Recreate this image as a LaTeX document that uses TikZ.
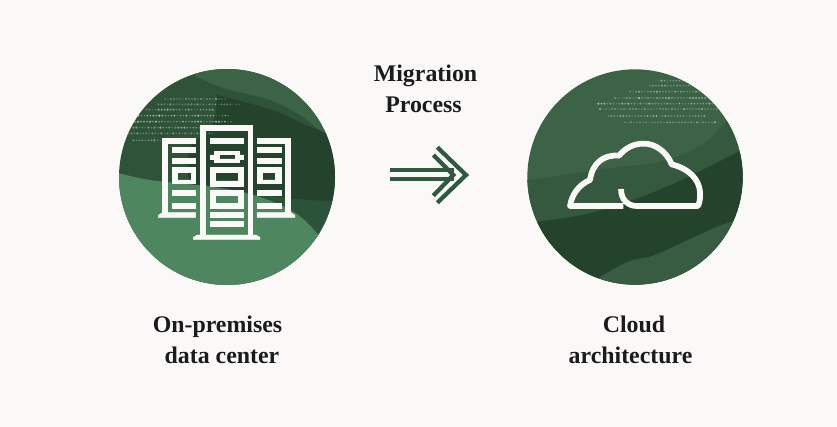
\documentclass[tikz,border=0pt]{standalone}
\usepackage{fontspec}
\setmainfont{Liberation Serif}
\definecolor{paper}{HTML}{FBF9F7}
\definecolor{inkc}{HTML}{1B1B1F}
\definecolor{bright}{HTML}{4E8660}
\definecolor{midl}{HTML}{2F5339}
\definecolor{midg}{HTML}{2C5339}
\definecolor{deep}{HTML}{24432C}
\definecolor{soft}{HTML}{3C6346}
\definecolor{softb}{HTML}{35593F}
\definecolor{arrowc}{HTML}{2F5A3F}
\tikzset{
  caption/.style={font=\bfseries\fontsize{17.9}{21}\selectfont,text=inkc,anchor=base,inner sep=0pt},
  zoomL/.style={shift={(110,65)},x=.25pt,y=-.25pt},
  zoomR/.style={shift={(515,65)},x=.25pt,y=-.25pt},
  zoomA/.style={shift={(360,50)},x=.25pt,y=-.25pt},
  icon/.style={fill=paper,draw=paper,line width=.35pt},
  cloudline/.style={draw=paper,line width=4.3pt,line cap=butt,line join=round},
  arrowline/.style={draw=arrowc,line width=3.2pt,line cap=butt,line join=miter},
}
\newcommand{\dotrow}[4]{% y, x start, x end, max opacity
  \pgfmathsetmacro{\xnext}{#2+9}
  \foreach \dx in {#2,\xnext,...,#3}{
    \pgfmathsetmacro{\op}{#4*(.25+.75*rnd)}
    \pgfmathsetmacro{\rr}{2+1.6*rnd}
    \fill[white,fill opacity=\op] (\dx,#1) circle[radius=\rr];
  }}
\begin{document}
\begin{tikzpicture}[x=.75pt,y=-.75pt]
\useasboundingbox (0,0) rectangle (837,427);
\fill[paper] (0,0) rectangle (837,427);
\pgfmathsetseed{4242}

% left disc
\begin{scope}[zoomL]
  \begin{scope}
    \clip (351,336) circle[radius=324];
    \fill[midl] (0,0) rectangle (700,680);
    \fill[deep] plot[smooth,tension=.6] coordinates {(320,90) (400,110) (500,140) (600,185) (700,220)} -- (700,420) -- plot[smooth,tension=.6] coordinates {(690,410) (600,405) (520,398) (430,385) (300,362) (240,350) (240,250) (300,190) (320,130)} -- cycle;
    \fill[soft] plot[smooth,tension=.6] coordinates {(225,10) (270,40) (350,72) (480,105) (570,150) (625,192) (690,225)} -- (700,0) -- (225,0) -- cycle;
    \fill[midg] plot[smooth,tension=.6] coordinates {(430,385) (520,398) (600,408) (700,405)} -- (700,560) -- (600,520) -- cycle;
    \fill[bright] plot[smooth,tension=.6] coordinates {(10,320) (120,345) (300,365) (430,390) (550,440) (625,510) (660,570)} -- (700,690) -- (0,690) -- cycle;
    \dotrow{102}{165}{350}{.6}
    \dotrow{118}{145}{395}{.5}
    \dotrow{134}{110}{310}{.6}
    \dotrow{152}{85}{360}{.75}
    \dotrow{170}{75}{370}{.7}
    \dotrow{188}{70}{310}{.55}
    \dotrow{205}{55}{310}{.55}
    \dotrow{226}{70}{170}{.55}
  \end{scope}
  % centre server
  \fill[icon] (272,180) rectangle (285,515);
  \fill[icon] (415,180) rectangle (428,515);
  \fill[icon] (272,180) rectangle (428,195);
  \fill[icon] (250,523) -- (250,517) -- (262,510) -- (438,510) -- (450,517) -- (450,523) -- cycle;
  \fill[icon] (300,220) rectangle (400,235);
  \fill[icon,even odd rule] (300,270) -- (313,270) -- (313,260) -- (387,260) -- (387,270) -- (400,270) -- (400,283) -- (387,283) -- (387,293) -- (313,293) -- (313,283) -- (300,283) -- cycle (328,269) rectangle (375,282);
  \fill[icon,even odd rule] (300,308) rectangle (400,363) (315,323) rectangle (385,348);
  \fill[icon,even odd rule] (300,377) rectangle (400,430) (315,391) rectangle (385,415);
  \fill[icon] (300,443) rectangle (400,458);
  \fill[icon] (300,470) rectangle (400,485);
  % left server
  \fill[icon] (157,220) rectangle (173,450);
  \fill[icon] (157,220) rectangle (257,235);
  \fill[icon] (145,457) -- (145,451) -- (157,443) -- (257,443) -- (257,457) -- cycle;
  \fill[icon] (187,248) rectangle (257,263);
  \fill[icon] (187,280) rectangle (257,295);
  \fill[icon,even odd rule] (187,308) rectangle (257,355) (203,323) rectangle (243,345);
  \fill[icon] (187,375) rectangle (257,392);
  \fill[icon] (187,415) rectangle (257,430);
  % right server
  \fill[icon] (525,220) rectangle (540,450);
  \fill[icon] (441,220) rectangle (540,235);
  \fill[icon] (441,443) -- (543,443) -- (555,451) -- (555,457) -- (441,457) -- cycle;
  \fill[icon] (441,248) rectangle (513,263);
  \fill[icon] (441,280) rectangle (513,295);
  \fill[icon,even odd rule] (441,308) rectangle (513,355) (457,323) rectangle (497,345);
  \fill[icon] (441,375) rectangle (513,392);
  \fill[icon] (441,415) rectangle (513,430);
\end{scope}

% right disc
\begin{scope}[zoomR]
  \begin{scope}
    \clip (360,336) circle[radius=323];
    \fill[soft] (0,0) rectangle (700,680);
    \fill[softb] plot[smooth,tension=.6] coordinates {(20,348) (180,325) (320,305) (440,290) (560,240) (640,165) (700,130)} -- (700,690) -- (20,690) -- cycle;
    \fill[deep] plot[smooth,tension=.6] coordinates {(50,472) (200,450) (340,410) (500,345) (690,250)} -- (700,450) -- plot[smooth,tension=.6] coordinates {(690,460) (620,480) (530,520) (420,570) (340,590) (250,640)} -- (50,640) -- cycle;
    \fill[softb!70!soft] plot[smooth,tension=.6] coordinates {(690,460) (620,480) (530,520) (420,570) (340,590) (250,640)} -- (250,690) -- (700,690) -- cycle;
    \dotrow{47}{430}{520}{.5}
    \dotrow{62}{405}{545}{.45}
    \dotrow{80}{345}{570}{.5}
    \dotrow{99}{300}{590}{.65}
    \dotrow{116}{250}{610}{.6}
    \dotrow{132}{255}{610}{.55}
    \dotrow{153}{280}{575}{.55}
    \dotrow{172}{330}{600}{.5}
  \end{scope}
  \draw[cloudline] (318,372) .. controls (318,405) and (340,423) .. (365,423) -- (549,423) .. controls (555,410) and (556,395) .. (555,380) .. controls (552,345) and (525,312) .. (470,298) .. controls (455,260) and (420,235) .. (385,236) .. controls (355,236) and (330,250) .. (312,272) .. controls (265,268) and (232,295) .. (225,345) .. controls (190,360) and (170,390) .. (165,423) -- (325,423);
\end{scope}

% arrow
\begin{scope}[zoomA]
  \draw[arrowline] (90,361) -- (282,361);
  \draw[arrowline] (90,388) -- (282,388);
  \draw[arrowline] (220,315) -- (280,375) -- (220,437);
  \draw[arrowline] (232,292) -- (318,375) -- (232,458);
\end{scope}

% labels
\node[caption] (mig) at (425.5,82) {Migration};
\node[caption] (pro) at (423.5,113) {Process};
\node[caption] (onp) at (217.5,332) {On-premises};
\node[caption] (dat) at (222,363) {data center};
\node[caption] (clo) at (634,332) {Cloud};
\node[caption] (arc) at (630.5,363) {architecture};
\end{tikzpicture}
\end{document}
